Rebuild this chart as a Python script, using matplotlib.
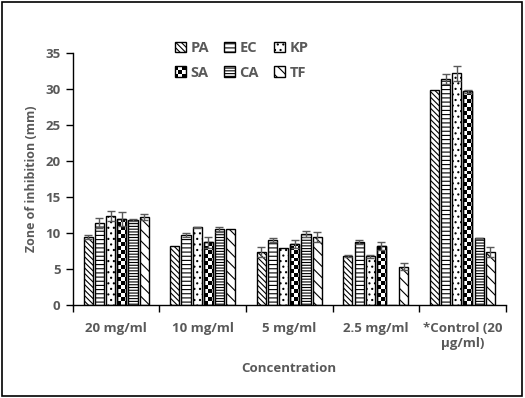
import numpy as np
import matplotlib
matplotlib.use("Agg")
import matplotlib.pyplot as plt
from matplotlib.patches import Rectangle
from matplotlib.collections import PatchCollection
from matplotlib.legend_handler import HandlerBase

plt.rcParams['font.family'] = ['Open Sans', 'DejaVu Sans']
plt.rcParams['hatch.linewidth'] = 0.8

categories = ['20 mg/ml', '10 mg/ml', '5 mg/ml', '2.5 mg/ml', '*Control (20\nµg/ml)']
series = ['PA', 'EC', 'KP', 'SA', 'CA', 'TF']

pa = [9.45, 8.15, 7.35, 6.8, 29.85]
ec = [11.35, 9.7, 9.0, 8.75, 31.4]
kp = [12.4, 10.8, 7.9, 6.75, 32.2]
sa = [11.95, 8.7, 8.5, 8.2, 29.7]
ca = [11.8, 10.5, 9.85, 0, 9.25]
tf = [12.2, 10.5, 9.45, 5.3, 7.35]

pa_err = [0.3, 0, 0.7, 0.1, 0]
ec_err = [0.7, 0.25, 0.25, 0.25, 0.7]
kp_err = [0.65, 0.1, 0, 0.15, 1.1]
sa_err = [1.0, 0.75, 0.6, 0.6, 0.2]
ca_err = [0.15, 0.4, 0.45, 0, 0.1]
tf_err = [0.4, 0, 0.75, 0.5, 0.7]

values = [pa, ec, kp, sa, ca, tf]
errors = [pa_err, ec_err, kp_err, sa_err, ca_err, tf_err]
hatches = ['\\' * 6, '-' * 4, '.' * 3, None, '-' * 6, '\\' * 3]

grey = '#595959'


class CheckerHandler(HandlerBase):
    # little 3x3 checker square for the SA legend entry
    def create_artists(self, legend, orig_handle, xdescent, ydescent,
                       width, height, fontsize, trans):
        arts = []
        n = 3
        cw = width / n
        ch = height / n
        for r in range(n):
            for c in range(n):
                col = 'black' if (r + c) % 2 == 0 else 'white'
                arts.append(Rectangle((-xdescent + c * cw, -ydescent + r * ch), cw, ch,
                                      facecolor=col, edgecolor='none', transform=trans))
        arts.append(Rectangle((-xdescent, -ydescent), width, height, fill=False,
                              edgecolor='black', linewidth=1.0, transform=trans))
        return arts


fig = plt.figure(figsize=(5.25, 3.98), dpi=100)
ax = fig.add_axes([0.139, 0.2337, 0.824, 0.6323])

x = np.arange(len(categories))
pitch = 0.129
width = 0.105

handles = {}
for i, name in enumerate(series):
    pos = x + (i - 2.5) * pitch
    vals = np.array(values[i])
    errs = np.array(errors[i])
    bars = ax.bar(pos, vals, width, color='white', edgecolor='black',
                  linewidth=1.0, hatch=hatches[i], label=name, zorder=2)
    if name == 'SA':
        # checkerboard: black squares about 4 px, clipped to the bar
        cw = 0.046
        chh = 0.55
        for b in bars:
            x0 = b.get_x()
            w = b.get_width()
            h = b.get_height()
            if h <= 0:
                continue
            sq = []
            nr = int(np.ceil(h / chh))
            nc = int(np.ceil(w / cw))
            for r in range(nr):
                for c in range(nc):
                    if (r + c) % 2 == 0:
                        sq.append(Rectangle((x0 + c * cw, r * chh), cw, chh))
            pc = PatchCollection(sq, facecolor='black', edgecolor='none', zorder=2.5)
            ax.add_collection(pc)
            pc.set_clip_path(b)
            ax.add_patch(Rectangle((x0, 0), w, h, fill=False,
                                   edgecolor='black', linewidth=1.0, zorder=2.6))
    mask = errs > 0
    ax.errorbar(pos[mask], vals[mask], yerr=errs[mask], fmt='none',
                ecolor=grey, elinewidth=1.0, capsize=3, capthick=1.0, zorder=3)
    handles[name] = bars

ax.set_xlim(-0.5, len(categories) - 0.5)
ax.set_ylim(0, 35)
ax.set_yticks(np.arange(0, 36, 5))
ax.set_xticks(x)
ax.set_xticklabels(categories)
ax.set_xticks(np.arange(-0.5, len(categories), 1), minor=True)
ax.tick_params(axis='x', which='major', length=0, pad=12)
ax.tick_params(axis='x', which='minor', length=5, direction='out', width=1)
ax.tick_params(axis='y', length=5, width=1, direction='out', pad=4)
for lab in ax.get_xticklabels() + ax.get_yticklabels():
    lab.set_fontsize(9.5)
    lab.set_fontweight('bold')
    lab.set_color(grey)

for s in ['top', 'right']:
    ax.spines[s].set_visible(False)
ax.spines['left'].set_linewidth(1)
ax.spines['bottom'].set_linewidth(1)

ax.set_ylabel('Zone of inhibition (mm)', fontsize=9, fontweight='bold', color=grey, labelpad=5)
ax.set_xlabel('Concentration', fontsize=9.5, fontweight='bold', color=grey, labelpad=9)

order = ['PA', 'SA', 'EC', 'CA', 'KP', 'TF']
leg = fig.legend([handles[n] for n in order], order, ncol=3, frameon=False,
                 loc='upper left', bbox_to_anchor=(0.308, 0.93),
                 handlelength=0.75, handleheight=0.75, handletextpad=0.3,
                 columnspacing=1.05, labelspacing=0.75,
                 handler_map={handles['SA']: CheckerHandler()},
                 prop={'weight': 'bold', 'size': 10.5})
for t in leg.get_texts():
    t.set_color(grey)

fig.add_artist(Rectangle((0.003, 0.004), 0.992, 0.99, transform=fig.transFigure,
                         fill=False, edgecolor='black', linewidth=1.2))

fig.savefig('out.png', dpi=100)
